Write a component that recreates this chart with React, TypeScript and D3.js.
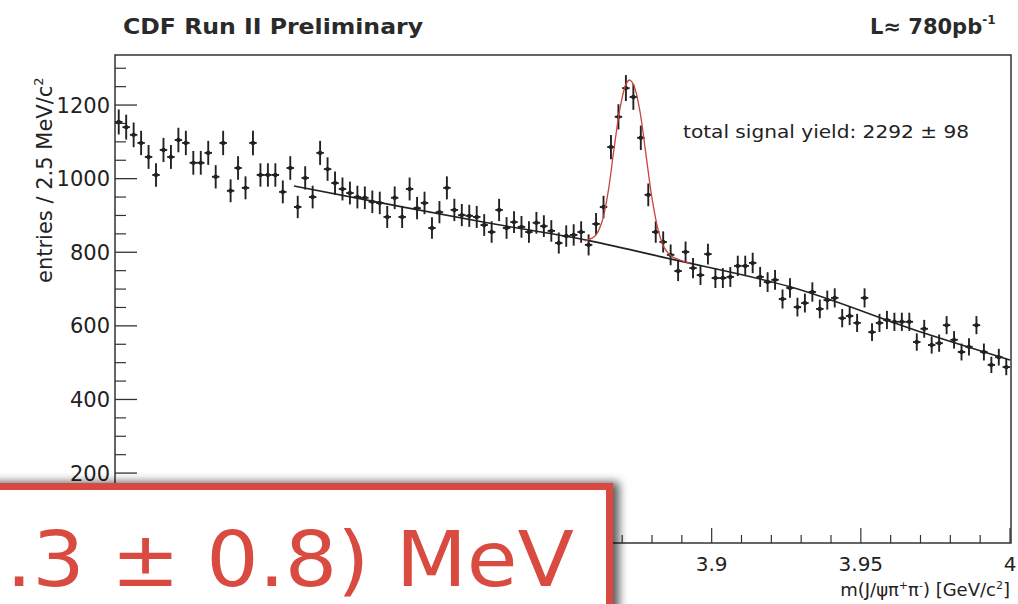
import * as d3 from "d3";
import * as React from "react";

// histogram: m(J/psi pi+ pi-) from 3.70 to 4.00 GeV, 2.5 MeV bins
const massMin = 3.7;
const massMax = 4.0;
const binWidth = 0.0025;

// entries per bin
const counts = [
  1154, 1140, 1119, 1097, 1059, 1010, 1078, 1059, 1105, 1097,
  1043, 1043, 1070, 1005, 1097, 967, 1029, 975, 1097, 1010,
  1010, 1010, 964, 1029, 923, 1002, 950, 1070, 1026, 988,
  972, 961, 950, 948, 937, 934, 896, 948, 896, 972,
  920, 934, 866, 909, 975, 915, 901, 899, 896, 874,
  855, 915, 866, 882, 869, 855, 880, 871, 858, 825,
  844, 847, 855, 820, 877, 923, 1086, 1168, 1246, 1222,
  1111, 956, 855, 828, 793, 749, 801, 757, 738, 795,
  730, 730, 733, 763, 763, 771, 733, 719, 725, 673,
  703, 651, 662, 692, 646, 670, 676, 621, 627, 608,
  676, 583, 608, 616, 611, 611, 611, 556, 592, 548,
  553, 602, 562, 529, 543, 602, 529, 494, 515, 488,
];

// background fit (black), read at a few masses
const bgMass = [3.76, 3.7932, 3.8247, 3.8592, 3.8861, 3.9263, 3.9709, 4.0];
const bgFit = [980, 928, 880, 831, 782, 706, 581, 507];

// signal + background fit (red) around the X(3872) peak
const peakMass = [
  3.8575, 3.8609, 3.8632, 3.8653, 3.8673, 3.8693, 3.8713, 3.8726, 3.874,
  3.876, 3.878, 3.88, 3.882, 3.884, 3.8864, 3.8894, 3.8927,
];
const peakFit = [
  831, 844, 882, 964, 1083, 1192, 1257, 1268, 1252,
  1181, 1064, 947, 863, 814, 790, 779, 770,
];

const yTicks = [200, 400, 600, 800, 1000, 1200];
const xTicks = [3.9, 3.95, 4.0];
const xTickLabels = ["3.9", "3.95", "4"];

const W = 1018;
const H = 604;
const frame = { left: 115, right: 1011, top: 55, bottom: 543 };
const ink = "#222";
const red = "#d94a40";
const font = "'DejaVu Sans', sans-serif";

export default function App() {
  const x = d3.scaleLinear().domain([massMin, massMax]).range([frame.left, 1010]);
  const y = d3.scaleLinear().domain([10, 1336]).range([frame.bottom, frame.top]);

  const yMinor = d3.range(50, 1336, 50).filter((v) => v % 200 !== 0);
  const xMinor = d3.range(0, 31).map((i) => massMin + i * 0.01);

  const curve = d3
    .line<number>()
    .x((_, i) => x(bgMass[i]))
    .y((d) => y(d))
    .curve(d3.curveMonotoneX);
  const peakCurve = d3
    .line<number>()
    .x((_, i) => x(peakMass[i]))
    .y((d) => y(d))
    .curve(d3.curveCatmullRom);

  return (
    <svg
      width={W}
      height={H}
      viewBox={`0 0 ${W} ${H}`}
      style={{ position: "absolute", left: 0, top: 0, background: "#fff" }}
      fontFamily={font}
    >
      <defs>
        <filter id="shadow" x="-10%" y="-30%" width="130%" height="160%">
          <feDropShadow dx="6" dy="-1" stdDeviation="5" floodColor="#000" floodOpacity="0.65" />
        </filter>
      </defs>

      {/* frame */}
      <rect
        x={frame.left}
        y={frame.top}
        width={frame.right - frame.left}
        height={frame.bottom - frame.top}
        fill="none"
        stroke="#333"
        strokeWidth={1.5}
      />

      {/* y ticks */}
      {yTicks.map((t) => (
        <g key={"y" + t}>
          <line x1={frame.left} x2={frame.left + 22} y1={y(t)} y2={y(t)} stroke="#333" strokeWidth={1.3} />
          <text x={110} y={y(t)} dy="0.36em" textAnchor="end" fontSize={21} fill={ink}>
            {t}
          </text>
        </g>
      ))}
      {yMinor.map((t) => (
        <line key={"ym" + t} x1={frame.left} x2={frame.left + 11} y1={y(t)} y2={y(t)} stroke="#333" strokeWidth={1.2} />
      ))}

      {/* x ticks */}
      {xMinor.map((m, i) => (
        <line
          key={"xm" + i}
          x1={x(m)}
          x2={x(m)}
          y1={frame.bottom}
          y2={frame.bottom - (i % 5 === 0 ? 15 : 8)}
          stroke="#333"
          strokeWidth={1.2}
        />
      ))}
      {xTicks.map((t, i) => (
        <text key={"xt" + t} x={x(t)} y={571} textAnchor="middle" fontSize={20} fill={ink}>
          {xTickLabels[i]}
        </text>
      ))}

      {/* data points with error bars */}
      <g stroke={ink} strokeWidth={1.9} fill={ink}>
        {counts.map((c, i) => {
          const m = massMin + binWidth * (i + 0.5);
          const err = Math.sqrt(c);
          return (
            <g key={"p" + i}>
              <line x1={x(m)} x2={x(m)} y1={y(c - err)} y2={y(c + err)} />
              <line x1={x(m - binWidth / 2)} x2={x(m + binWidth / 2)} y1={y(c)} y2={y(c)} />
              <circle cx={x(m)} cy={y(c)} r={2.2} stroke="none" />
            </g>
          );
        })}
      </g>

      {/* fits */}
      <path d={curve(bgFit) || ""} fill="none" stroke={ink} strokeWidth={1.6} />
      <path d={peakCurve(peakFit) || ""} fill="none" stroke="#c8443c" strokeWidth={1.3} />

      {/* labels */}
      <text x={123} y={34} fontSize={21} fontWeight="bold" fill="#2a2a2a" textLength={300} lengthAdjust="spacingAndGlyphs">
        CDF Run II Preliminary
      </text>
      <text x={870} y={34} fontSize={21} fontWeight="bold" fill="#2a2a2a">
        L≈ 780pb
        <tspan fontSize={12} dy={-10}>-1</tspan>
      </text>
      <text x={683} y={138} fontSize={18} fill={ink} textLength={286} lengthAdjust="spacingAndGlyphs">
        total signal yield: 2292 ± 98
      </text>
      <text transform="translate(52,283) rotate(-90)" fontSize={21} fill={ink}>
        entries / 2.5 MeV/c
        <tspan fontSize={13} dy={-9}>2</tspan>
      </text>
      <text x={1010} y={596} textAnchor="end" fontSize={18} fill={ink}>
        m(J/ψπ<tspan fontSize={11} dy={-7}>+</tspan>
        <tspan dy={7}>π</tspan>
        <tspan fontSize={11} dy={-7}>-</tspan>
        <tspan dy={7}>) [GeV/c</tspan>
        <tspan fontSize={11} dy={-7}>2</tspan>
        <tspan dy={7}>]</tspan>
      </text>

      {/* overlaid result box */}
      <rect
        x={-20}
        y={486.5}
        width={629.5}
        height={160}
        fill="#fff"
        stroke={red}
        strokeWidth={7}
        filter="url(#shadow)"
      />
      <text
        x={6}
        y={586}
        fontSize={77}
        fill={red}
        fontFamily="'Comic Sans MS', 'DejaVu Sans', sans-serif"
        textLength={568}
        lengthAdjust="spacingAndGlyphs"
      >
        .3 ± 0.8) MeV
      </text>
    </svg>
  );
}
